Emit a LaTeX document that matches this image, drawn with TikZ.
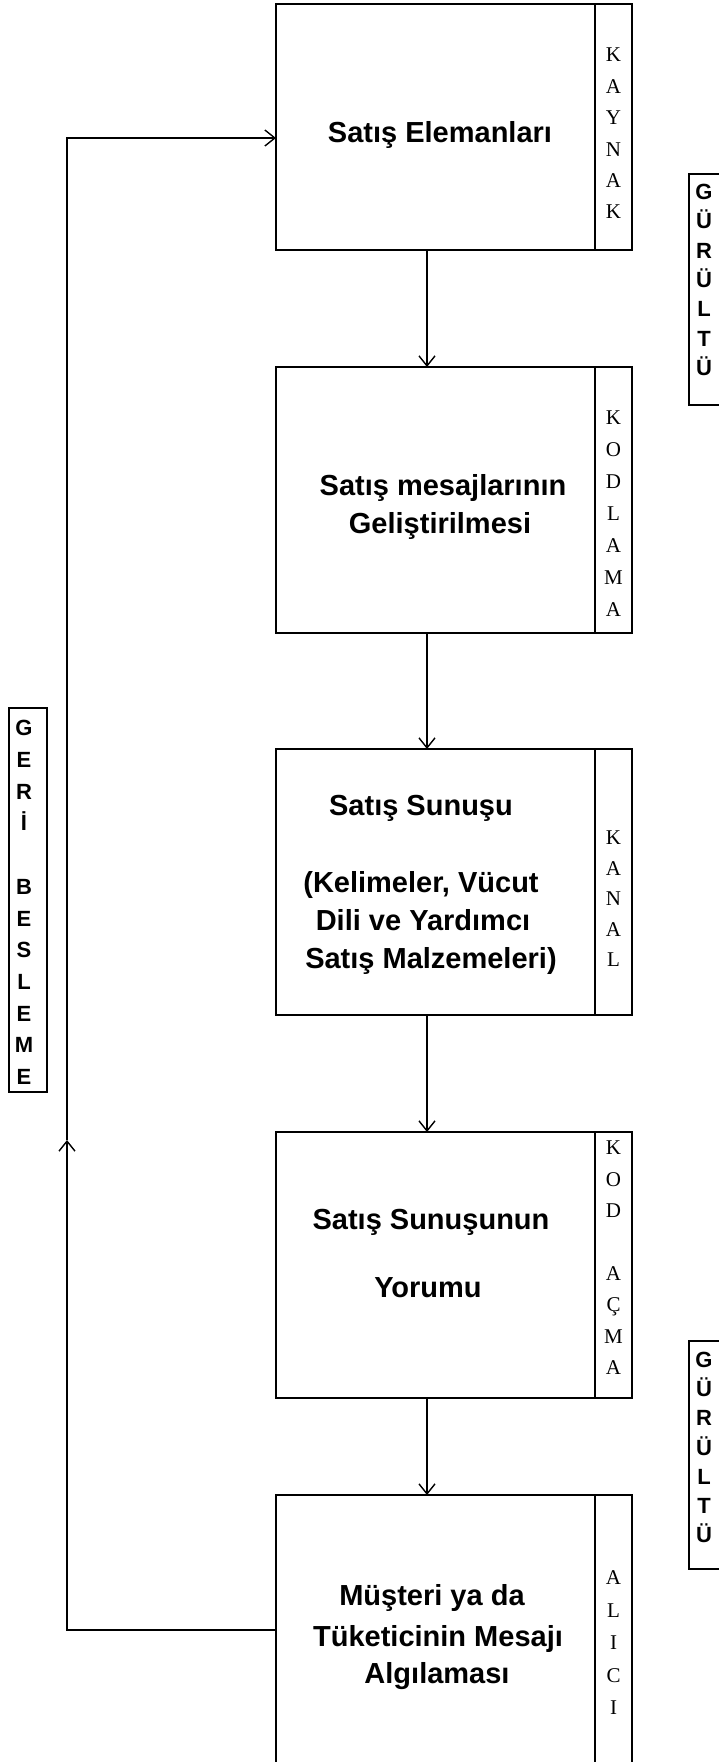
\documentclass[tikz,border=0pt]{standalone}
\usepackage{fontspec}
\setmainfont{Liberation Sans}
\newfontfamily\lettersfont{Liberation Serif}
\usetikzlibrary{arrows.meta}
\tikzset{
  box/.style={draw, rectangle, inner sep=0pt, outer sep=0pt, anchor=north west, minimum width=319pt},
  sidecol/.style={draw, rectangle, inner sep=0pt, outer sep=0pt, anchor=north west, minimum width=37pt},
  maintext/.style={inner sep=0pt, anchor=base, font=\bfseries\fontsize{29}{34}\selectfont},
  colletters/.style={inner sep=0pt, align=center, font=\lettersfont\fontsize{21}{#1}\selectfont},
  noiseletters/.style={inner sep=0pt, align=center, font=\bfseries\fontsize{22}{#1}\selectfont},
  frame/.style={draw, rectangle, inner sep=0pt, outer sep=0pt, anchor=north west},
  arr/.style={-{Straight Barb[length=10pt,width=16pt]}},
}
\begin{document}
\begin{tikzpicture}[x=1pt,y=-1pt,line width=1.4pt]
\useasboundingbox (0,0) rectangle (719,1762);
\clip (0,0) rectangle (719,1762);
\fill[white] (0,0) rectangle (719,1762);

% main boxes
\node[box, minimum height=246pt] (b1) at (276,4) {};
\node[sidecol, minimum height=246pt] (s1) at (595,4) {};
\node[box, minimum height=266pt] (b2) at (276,367) {};
\node[sidecol, minimum height=266pt] (s2) at (595,367) {};
\node[box, minimum height=266pt] (b3) at (276,749) {};
\node[sidecol, minimum height=266pt] (s3) at (595,749) {};
\node[box, minimum height=266pt] (b4) at (276,1132) {};
\node[sidecol, minimum height=266pt] (s4) at (595,1132) {};
\node[box, minimum height=300pt] (b5) at (276,1495) {};
\node[sidecol, minimum height=300pt] (s5) at (595,1495) {};

% main texts
\node[maintext] (t1) at (440,142) {Satış Elemanları};
\node[maintext] (t2a) at (443,495) {Satış mesajlarının};
\node[maintext] (t2b) at (440,533) {Geliştirilmesi};
\node[maintext] (t3a) at (421,815) {Satış Sunuşu};
\node[maintext] (t3b) at (421,892) {(Kelimeler, Vücut};
\node[maintext] (t3c) at (423,930) {Dili ve Yardımcı};
\node[maintext] (t3d) at (431,968) {Satış Malzemeleri)};
\node[maintext] (t4a) at (431,1229) {Satış Sunuşunun};
\node[maintext] (t4b) at (428,1297) {Yorumu};
\node[maintext] (t5a) at (432,1605) {Müşteri ya da};
\node[maintext] (t5b) at (438,1646) {Tüketicinin Mesajı};
\node[maintext] (t5c) at (437,1683) {Algılaması};

% side column letters
\node[colletters=31.4] (l1) at (613.5,133.5) {K\\A\\Y\\N\\A\\K};
\node[colletters=32] (l2) at (613.5,514) {K\\O\\D\\L\\A\\M\\A};
\node[colletters=30.5] (l3) at (613.5,899) {K\\A\\N\\A\\L};
\node[colletters=31.4] (l4) at (613.5,1258) {K\\O\\D\\\mbox{}\\A\\Ç\\M\\A};
\node[colletters=32.5] (l5) at (613.5,1643) {A\\L\\I\\C\\I};

% noise and feedback labels
\node[frame, minimum width=40pt, minimum height=231pt] (g1) at (689,174) {};
\node[noiseletters=29.3] (g1t) at (704,280) {G\\Ü\\R\\Ü\\L\\T\\Ü};
\node[frame, minimum width=40pt, minimum height=228pt] (g2) at (689,1341) {};
\node[noiseletters=29.2] (g2t) at (704,1447.5) {G\\Ü\\R\\Ü\\L\\T\\Ü};
\node[frame, minimum width=38pt, minimum height=384pt] (fbbox) at (9,708) {};
\node[noiseletters=31.7] (fbt) at (24,902.5) {G\\E\\R\\İ\\\mbox{}\\B\\E\\S\\L\\E\\M\\E};

% flow arrows
\draw[arr] ([xshift=151pt]b1.south west) -- ([xshift=151pt]b2.north west);
\draw[arr] ([xshift=151pt]b2.south west) -- ([xshift=151pt]b3.north west);
\draw[arr] ([xshift=151pt]b3.south west) -- ([xshift=151pt]b4.north west);
\draw[arr] ([xshift=151pt]b4.south west) -- ([xshift=151pt]b5.north west);

% feedback loop
\coordinate (fbL) at (67,1630);
\coordinate (fbM) at (67,1140);
\coordinate (fbT) at (67,138);
\draw[arr] (b5.west |- fbL) -- (fbL) -- (fbM);
\draw[arr] (fbM) -- (fbT) -- (b1.west |- fbT);
\end{tikzpicture}
\end{document}
